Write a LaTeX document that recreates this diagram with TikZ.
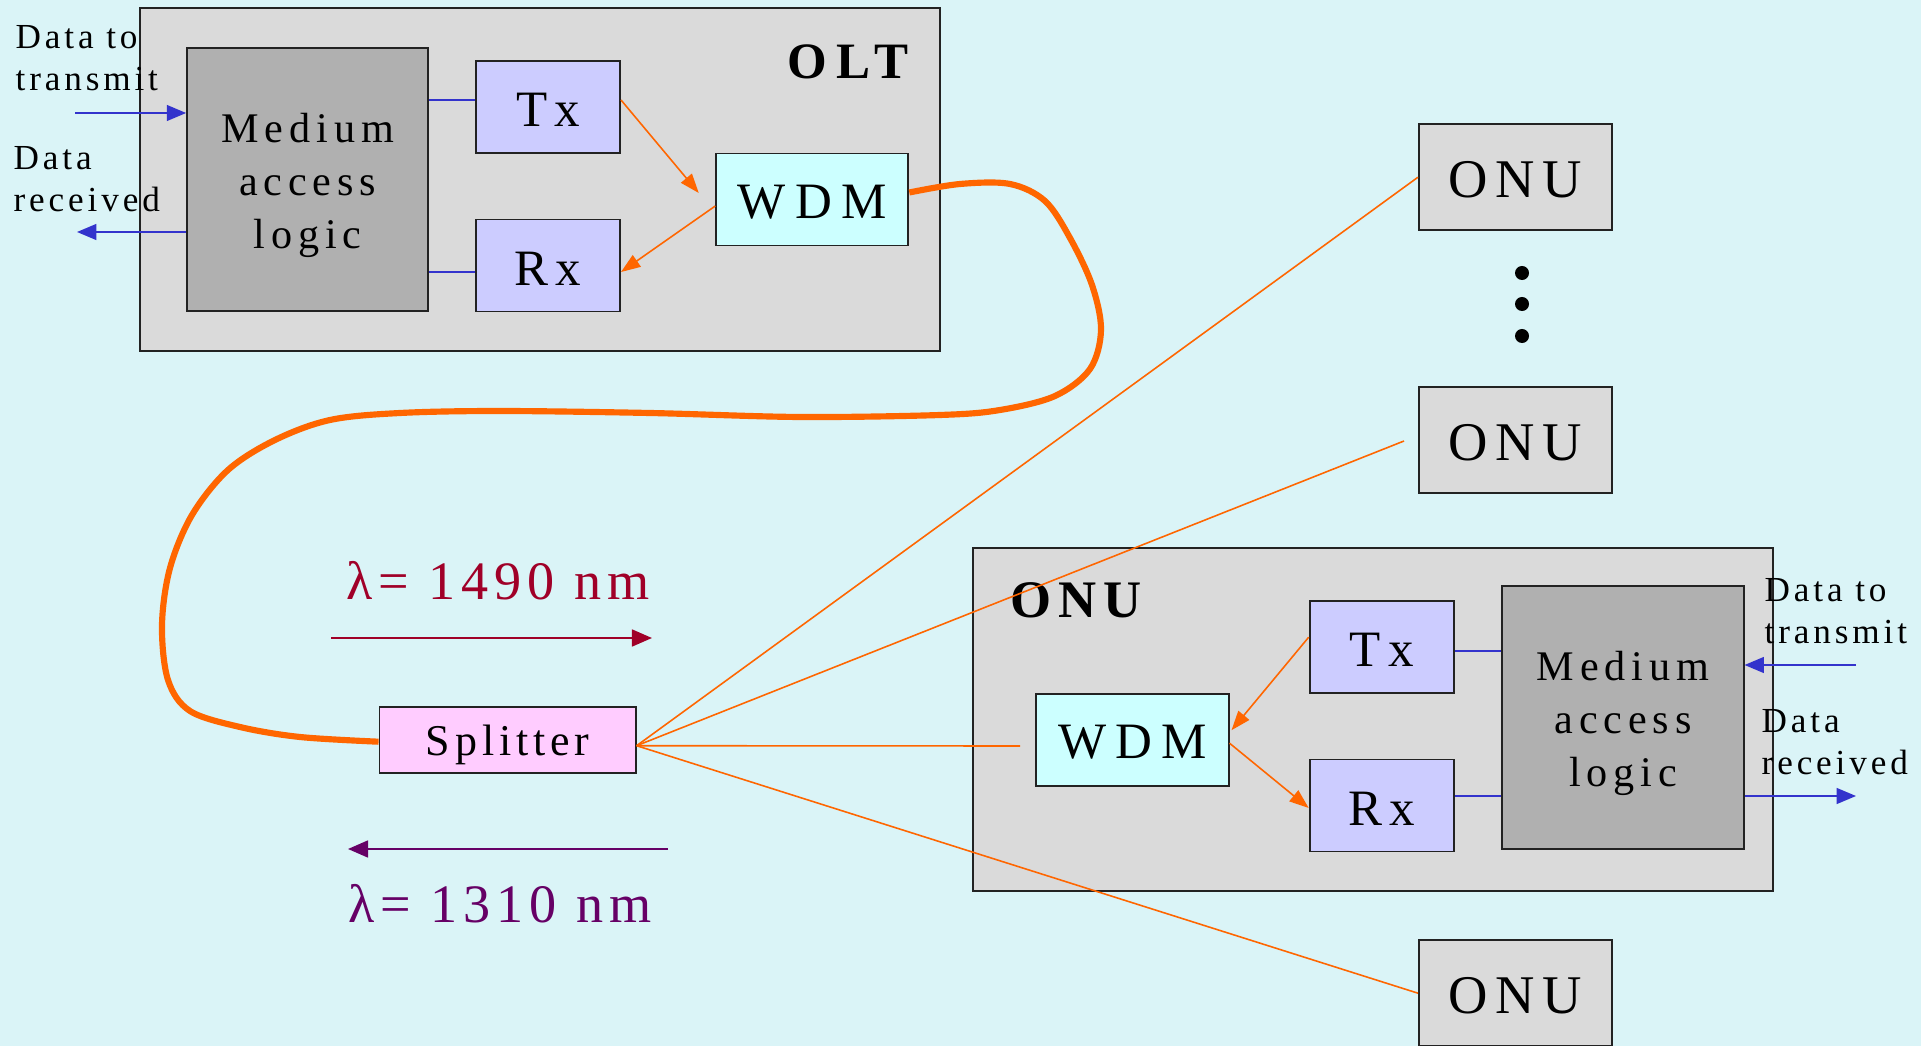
\documentclass[tikz,border=0pt]{standalone}
\usepackage{fontspec}
\setmainfont{Liberation Serif}[LetterSpace=11]
\newfontfamily\boxfont{Liberation Serif}[LetterSpace=14]
\newfontfamily\widefont{Liberation Serif}[LetterSpace=18]
\usetikzlibrary{arrows.meta}
\definecolor{bgcyan}{RGB}{218,244,247}
\definecolor{framegray}{RGB}{218,218,218}
\definecolor{macgray}{RGB}{176,176,176}
\definecolor{trxblue}{RGB}{204,204,255}
\definecolor{wdmcyan}{RGB}{204,255,255}
\definecolor{splitpink}{RGB}{255,204,255}
\definecolor{fiberorange}{RGB}{255,102,0}
\definecolor{linkblue}{RGB}{51,51,204}
\definecolor{edge}{RGB}{34,34,34}
\definecolor{lamred}{RGB}{160,0,40}
\definecolor{lampurple}{RGB}{102,0,102}

\begin{document}
\begin{tikzpicture}[x=0.01cm,y=-0.01cm,>={Triangle[length=5.5pt,width=4.5pt]},
  unit/.style={draw=edge,line width=0.55pt,inner sep=0pt},
  frame/.style={unit,fill=framegray,minimum width=8cm,minimum height=3.42cm},
  mac/.style={unit,fill=macgray,minimum width=2.41cm,minimum height=2.63cm,align=center,font=\boxfont\fontsize{12}{15.1}\selectfont},
  trx/.style={unit,fill=trxblue,minimum width=1.44cm,minimum height=0.92cm,text height=11.2pt,text depth=0pt,font=\boxfont\fontsize{14.5}{17}\selectfont},
  wdm/.style={unit,fill=wdmcyan,minimum width=1.92cm,minimum height=0.92cm,text height=10.6pt,text depth=0pt,font=\widefont\fontsize{14.5}{17}\selectfont},
  onu/.style={unit,fill=framegray,minimum width=1.93cm,minimum height=1.06cm,text height=11.5pt,text depth=0pt,font=\boxfont\fontsize{15.5}{18}\selectfont},
  datatext/.style={inner sep=0pt,align=left,font=\fontsize{10}{12}\selectfont},
  lamtext/.style={anchor=base,inner sep=0pt,font=\fontsize{15.4}{18}\selectfont},
  fiber/.style={draw=fiberorange,line width=1.75pt},
  drop/.style={draw=fiberorange,line width=0.45pt},
  optarrow/.style={drop,-{Triangle[length=5.5pt,width=4pt]}},
  link/.style={draw=linkblue,line width=0.5pt},
  lamarrow/.style={line width=0.6pt,-{Triangle[length=5.7pt,width=4.8pt]}}]
  \useasboundingbox (0,0) rectangle (1921,1046);
  \fill[bgcyan] (0,0) rectangle (1921,1046);

  % OLT side
  \node[frame] (olt) at (540,179.5) {};
  \node[font=\widefont\bfseries\fontsize{14.5}{17}\selectfont] (oltlabel) at (848,62) {OLT};
  \node[mac] (macA) at (307.7,179.7) {\rule{0pt}{11.6pt}Medium\\access\\logic};
  \node[trx] (txA) at (548,107.2) {Tx};
  \node[trx] (rxA) at (548,265.5) {Rx};
  \node[wdm] (wdmA) at (812.3,199.5) {WDM};
  \node[datatext,anchor=west] (sendA) at (15,58) {Data to\\transmit};
  \node[datatext,anchor=west] (recvA) at (13,179) {Data\\received};

  % ONU side
  \node[frame] (onuB) at (1373,719.5) {};
  \node[font=\boxfont\bfseries\fontsize{15}{18}\selectfont] (onulabel) at (1076,600) {ONU};
  \node[wdm] (wdmB) at (1132.5,739.7) {WDM};
  \node[trx] (txB) at (1381.7,647.2) {Tx};
  \node[trx] (rxB) at (1381.7,805.5) {Rx};
  \node[mac] (macB) at (1623,717.3) {\rule{0pt}{11.6pt}Medium\\access\\logic};
  \node[datatext,anchor=west] (sendB) at (1764,611) {Data to\\transmit};
  \node[datatext,anchor=west] (recvB) at (1761,742) {Data\\received};

  \node[onu] (onu1) at (1515.5,177.2) {ONU};
  \node[onu] (onu2) at (1515.5,440.3) {ONU};
  \node[onu] (onu3) at (1515.5,993.2) {ONU};
  \foreach \y in {273,304,336}
    \fill (1522,\y) circle[radius=0.07cm];

  \node[unit,fill=splitpink,minimum width=2.56cm,minimum height=0.66cm,text height=9pt,text depth=0pt,font=\fontsize{12.5}{15}\selectfont] (spl) at (507.6,739.7) {Splitter};

  % fibre and drops
  \draw[fiber] plot[smooth,tension=0.55] coordinates {([yshift=0.07cm]wdmA.east) (960,184) (1010,184) (1045,201) (1070,238) (1092,285) (1101,330) (1090,369) (1055,396) (1000,410) (940,415) (800,417) (650,413) (500,411) (400,413) (330,420) (275,440) (228,470) (192,515) (170,568) (162,625) (168,680) (190,711) (240,727) (300,737) ([yshift=-0.02cm]spl.west)};
  \coordinate (fan) at ([yshift=-0.06cm]spl.east);
  \coordinate (stub2) at (1404,441);
  \coordinate (stub3) at (1020,746);
  \draw[drop] (fan) -- (onu1.west);
  \draw[drop] (fan) -- (stub2);
  \draw[drop] (fan) -- (stub3);
  \draw[drop] (fan) -- (onu3.west);

  \draw[optarrow] ([yshift=0.072cm]txA.east) -- ([xshift=-0.165cm,yshift=0.065cm]wdmA.west);
  \draw[optarrow] ([yshift=-0.065cm]wdmA.west) -- ([yshift=-0.065cm]rxA.east);
  \draw[optarrow] ([yshift=0.1cm]txB.west) -- ([xshift=0.02cm,yshift=0.095cm]wdmB.east);
  \draw[optarrow] ([yshift=-0.035cm]wdmB.east) -- ([yshift=-0.025cm]rxB.west);

  % electrical links
  \coordinate (txAport) at ([yshift=0.072cm]txA.west);
  \coordinate (rxAport) at ([yshift=-0.065cm]rxA.west);
  \coordinate (txBport) at ([yshift=-0.038cm]txB.east);
  \coordinate (rxBport) at ([yshift=0.095cm]rxB.east);
  \draw[link] (txAport) -- (txAport -| macA.east);
  \draw[link] (rxAport) -- (rxAport -| macA.east);
  \draw[link] (txBport) -- (txBport -| macB.west);
  \draw[link] (rxBport) -- (rxBport -| macB.west);
  \coordinate (inA) at (75,113);
  \coordinate (outA) at (77,232);
  \coordinate (inB) at (1856,665);
  \coordinate (outB) at (1856,796);
  \draw[link,->] (inA) -- (inA -| macA.west);
  \draw[link,->] (outA -| macA.west) -- (outA);
  \draw[link,->] (inB) -- (inB -| macB.east);
  \draw[link,->] (outB -| macB.east) -- (outB);

  % wavelengths
  \node[lamtext,text=lamred] (lamdown) at (498,600) {λ= 1490 nm};
  \node[lamtext,text=lampurple] (lamup) at (500,922) {λ= 1310 nm};
  \coordinate (downA) at (331,638);
  \coordinate (downB) at (652,638);
  \coordinate (upA) at (668,849);
  \coordinate (upB) at (348,849);
  \draw[lamarrow,lamred] (downA) -- (downB);
  \draw[lamarrow,lampurple] (upA) -- (upB);
\end{tikzpicture}
\end{document}
